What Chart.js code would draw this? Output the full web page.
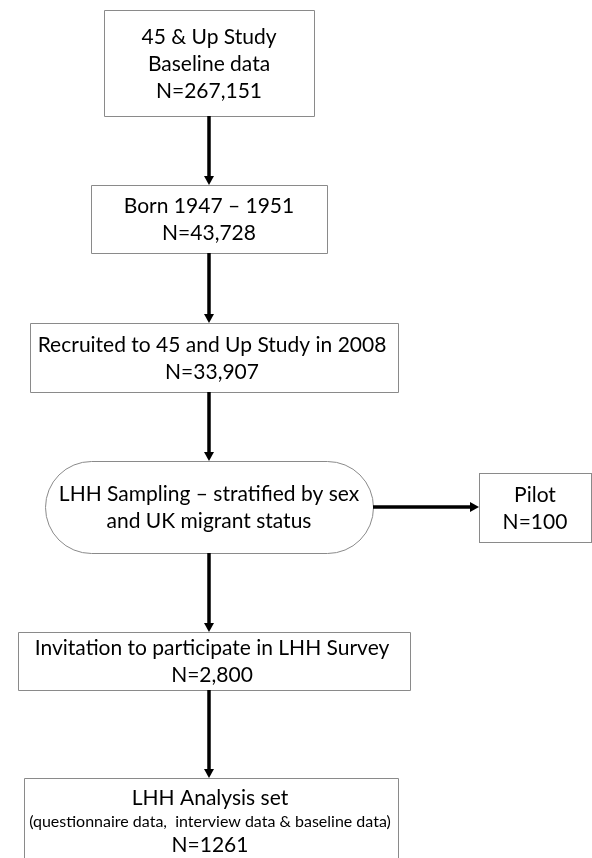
<!DOCTYPE html>
<html>
<head>
<meta charset="utf-8">
<script src="https://cdn.jsdelivr.net/npm/chart.js@4.4.1/dist/chart.umd.min.js"></script>
<style>
  html, body { margin: 0; padding: 0; background: #fff; }
  #flow { display: block; }
</style>
</head>
<body>
<canvas id="flow" width="592" height="858"></canvas>
<script>
// Flow steps (text content)
const stepTitles = [
  ['45 & Up Study', 'Baseline data'],
  ['Born 1947 \u2013 1951'],
  ['Recruited to 45 and Up Study in 2008'],
  ['LHH Sampling \u2013 stratified by sex', 'and UK migrant status'],
  ['Invitation to participate in LHH Survey'],
  ['LHH Analysis set'],
];
const stepCounts = ['N=267,151', 'N=43,728', 'N=33,907', null, 'N=2,800', 'N=1261'];
const analysisNote = '(questionnaire data,  interview data & baseline data)';
const sideTitle = 'Pilot';
const sideCount = 'N=100';

// Layout in diagram units (x: 0-592, y: 0-858 top-down)
const boxRects = [
  [104, 10, 314, 116],
  [91, 185, 327, 253],
  [30, 323, 398, 392],
  [45, 461, 373, 553],
  [18, 632, 410, 690],
  [24, 778, 398, 870],
];
const sideRect = [479, 473, 591, 542];
const flowX = 209;
const LINE = 27;

const ink = '#000';
const border = '#8a8a8a';
const font = (px) => `${px}px Lato, "Open Sans", sans-serif`;

const flowPlugin = {
  id: 'flow',
  afterDraw(chart) {
    const { ctx } = chart;
    const sx = chart.scales.x;
    const sy = chart.scales.y;
    const px = (v) => sx.getPixelForValue(v);
    const py = (v) => sy.getPixelForValue(v);

    const rectPx = (r) => ({ x0: px(r[0]), y0: py(r[1]), x1: px(r[2]), y1: py(r[3]) });

    // Boxes
    ctx.save();
    ctx.strokeStyle = border;
    ctx.lineWidth = 1;
    boxRects.forEach((r, i) => {
      const b = rectPx(r);
      ctx.beginPath();
      if (i === 3) {
        const h = b.y1 - b.y0;
        ctx.roundRect(b.x0 + 0.5, b.y0 + 0.5, b.x1 - b.x0, h, h / 2);
      } else {
        ctx.rect(Math.round(b.x0) + 0.5, Math.round(b.y0) + 0.5, b.x1 - b.x0, b.y1 - b.y0);
      }
      ctx.stroke();
    });
    const sb = rectPx(sideRect);
    ctx.strokeRect(Math.round(sb.x0) + 0.5, Math.round(sb.y0) + 0.5, sb.x1 - sb.x0, sb.y1 - sb.y0);
    ctx.restore();

    // Arrows
    const arrow = (x0, y0, x1, y1) => {
      const ang = Math.atan2(y1 - y0, x1 - x0);
      const head = 9, half = 5;
      ctx.save();
      ctx.strokeStyle = '#000';
      ctx.fillStyle = '#000';
      ctx.lineWidth = 3.5;
      ctx.beginPath();
      ctx.moveTo(x0, y0);
      ctx.lineTo(x1 - Math.cos(ang) * head, y1 - Math.sin(ang) * head);
      ctx.stroke();
      ctx.beginPath();
      ctx.moveTo(x1, y1);
      ctx.lineTo(x1 - Math.cos(ang) * head - Math.sin(ang) * half, y1 - Math.sin(ang) * head + Math.cos(ang) * half);
      ctx.lineTo(x1 - Math.cos(ang) * head + Math.sin(ang) * half, y1 - Math.sin(ang) * head - Math.cos(ang) * half);
      ctx.closePath();
      ctx.fill();
      ctx.restore();
    };
    for (let i = 0; i < boxRects.length - 1; i++) {
      arrow(px(flowX), py(boxRects[i][3]), px(flowX), py(boxRects[i + 1][1]));
    }
    const st = rectPx(boxRects[3]);
    const midY = (st.y0 + st.y1) / 2;
    arrow(st.x1, midY, sb.x0, midY);

    // Text
    ctx.save();
    ctx.fillStyle = ink;
    ctx.textAlign = 'center';
    ctx.textBaseline = 'middle';
    const writeLines = (lines, cx, cy) => {
      lines.forEach((l, k) => {
        ctx.font = font(l.size || 21);
        ctx.fillText(l.text, cx, cy + (k - (lines.length - 1) / 2) * LINE);
      });
    };
    stepTitles.forEach((title, i) => {
      const b = rectPx(boxRects[i]);
      const cx = (b.x0 + b.x1) / 2;
      if (i === 5) {
        ctx.font = font(21);
        ctx.fillText(title[0], px(flowX) + 1, b.y0 + 20);
        ctx.font = font(16);
        ctx.fillText(analysisNote, px(flowX) + 1, b.y0 + 44);
        ctx.font = font(21);
        ctx.fillText(stepCounts[i], px(flowX) + 1, b.y0 + 67);
        return;
      }
      const lines = title.map((t) => ({ text: t }));
      if (stepCounts[i]) lines.push({ text: stepCounts[i] });
      writeLines(lines, i === 4 || i === 2 ? px(flowX) + 3 : cx, (b.y0 + b.y1) / 2 + 1);
    });
    writeLines([{ text: sideTitle }, { text: sideCount }], (sb.x0 + sb.x1) / 2, (sb.y0 + sb.y1) / 2 + 1);
    ctx.restore();
  },
};

new Chart(document.getElementById('flow'), {
  type: 'scatter',
  data: { datasets: [{ data: [], pointRadius: 0 }] },
  options: {
    responsive: false,
    animation: false,
    layout: { padding: 0 },
    plugins: { legend: { display: false }, tooltip: { enabled: false } },
    scales: {
      x: { type: 'linear', min: 0, max: 592, display: false },
      y: { type: 'linear', min: 0, max: 858, reverse: true, display: false },
    },
  },
  plugins: [flowPlugin],
});
</script>
</body>
</html>
